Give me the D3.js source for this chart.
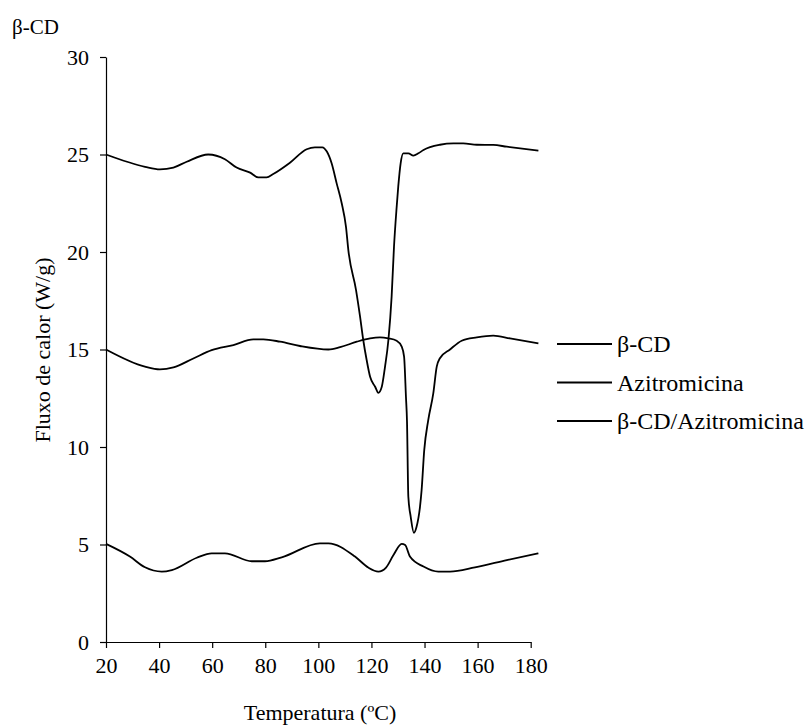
<!DOCTYPE html>
<html>
<head>
<meta charset="utf-8">
<script src="https://cdn.jsdelivr.net/npm/d3@7"></script>
<style>
  body { margin: 0; background: #fff; }
  text { font-family: "Liberation Serif", "Times New Roman", serif; fill: #000; }
</style>
</head>
<body>
<svg></svg>
<script>
// legend names
const seriesNames = ["β-CD", "Azitromicina", "β-CD/Azitromicina"];

// β-CD (upper curve)
const tempA = [20, 34.7, 40.3, 45.4, 50.4, 58.5, 64.8, 69.2, 74.3, 77.4, 80.5, 83.0, 89.3, 95.6, 98.7, 101.5, 103.2, 105.0, 106.9, 108.8, 110.4, 111.3, 114.2, 115.7, 116.9, 118.2, 119.5, 121.4, 122.6, 123.9, 125.1, 126.4, 127.6, 128.5, 129.5, 130.1, 131.0, 132.0, 133.9, 135.8, 137.7, 139.6, 145.8, 150.9, 154.6, 159.7, 165.9, 171.0, 182.9];
const fluxA = [25.0, 24.37, 24.24, 24.33, 24.63, 25.0, 24.76, 24.33, 24.07, 23.83, 23.83, 24.0, 24.58, 25.27, 25.37, 25.37, 25.15, 24.55, 23.52, 22.5, 21.3, 20.1, 18.05, 16.7, 15.5, 14.46, 13.6, 13.09, 12.78, 13.09, 14.1, 15.5, 17.7, 20.27, 22.3, 23.35, 24.55, 25.06, 25.06, 24.94, 25.06, 25.23, 25.5, 25.57, 25.57, 25.5, 25.49, 25.4, 25.2];

// Azitromicina (middle curve)
const tempB = [20, 34.7, 40.3, 45.4, 52.9, 59.8, 68.0, 75.5, 79.3, 85.6, 93.1, 103.8, 108.2, 114.5, 119.5, 123.2, 126.4, 129.5, 131.4, 132.3, 133.0, 133.4, 133.9, 134.8, 136.0, 137.0, 138.3, 138.9, 139.9, 141.4, 143.3, 144.6, 145.8, 149.6, 154.0, 159.7, 165.9, 172.2, 182.9];
const fluxB = [15.0, 14.12, 13.98, 14.08, 14.54, 14.97, 15.23, 15.52, 15.52, 15.4, 15.18, 15.0, 15.12, 15.4, 15.57, 15.62, 15.57, 15.45, 15.15, 14.63, 12.58, 11.3, 7.45, 6.42, 5.6, 5.91, 6.94, 7.79, 9.85, 11.38, 12.75, 14.12, 14.55, 15.0, 15.45, 15.62, 15.71, 15.57, 15.31];

// β-CD/Azitromicina (lower curve)
const tempC = [20, 29.0, 34.7, 41.0, 44.8, 54.2, 59.8, 64.8, 74.9, 79.9, 86.2, 100.6, 103.8, 113.8, 118.8, 122.6, 125.5, 128.3, 131.4, 132.7, 134.5, 139.6, 145.2, 149.6, 159.0, 171.0, 182.9];
const fluxC = [5.03, 4.38, 3.83, 3.61, 3.69, 4.32, 4.55, 4.55, 4.14, 4.14, 4.34, 5.06, 5.06, 4.38, 3.82, 3.61, 3.82, 4.46, 5.03, 4.97, 4.38, 3.87, 3.61, 3.61, 3.83, 4.2, 4.55];

const xTicks = [20, 40, 60, 80, 100, 120, 140, 160, 180];
const yTicks = [0, 5, 10, 15, 20, 25, 30];

const w = 806, h = 726;
const svg = d3.select("svg").attr("width", w).attr("height", h);

const x = d3.scaleLinear().domain([20, 180]).range([106, 530.7]);
const y = d3.scaleLinear().domain([0, 30]).range([642, 57]);

// axes
const xAxis = svg.append("g")
    .attr("transform", `translate(0,${y(0)})`)
    .call(d3.axisBottom(x).tickValues(xTicks).tickSize(6).tickSizeOuter(0).tickPadding(9));
const yAxis = svg.append("g")
    .attr("transform", `translate(${x(20)},0)`)
    .call(d3.axisLeft(y).tickValues(yTicks).tickSize(6).tickSizeOuter(0).tickPadding(11));

[xAxis, yAxis].forEach(g => {
    g.attr("font-family", null);
    g.select(".domain").attr("stroke", "#000").attr("stroke-width", 1.2);
    g.selectAll(".tick line").attr("stroke", "#000").attr("stroke-width", 1.2);
    g.selectAll(".tick text")
        .style("font-family", "Liberation Serif")
        .style("font-size", "22px")
        .attr("fill", "#000");
});

// curves
const line = d3.line()
    .x(d => x(d[0]))
    .y(d => y(d[1]))
    .curve(d3.curveMonotoneX);

const series = [
    d3.zip(tempA, fluxA),
    d3.zip(tempB, fluxB),
    d3.zip(tempC, fluxC)
];

svg.append("g")
    .selectAll("path")
    .data(series)
    .enter()
    .append("path")
    .attr("d", line)
    .attr("fill", "none")
    .attr("stroke", "#000")
    .attr("stroke-width", 1.8)
    .attr("stroke-linejoin", "round");

// legend
const legend = svg.append("g")
    .selectAll("g")
    .data(seriesNames)
    .enter()
    .append("g")
    .attr("transform", (d, i) => `translate(557,${344 + i * 38.5})`);

legend.append("line")
    .attr("x1", 0).attr("x2", 55)
    .attr("stroke", "#000").attr("stroke-width", 1.8);

legend.append("text")
    .attr("x", 60)
    .attr("dy", "0.35em")
    .style("font-size", "24px")
    .text(d => d);

// titles
svg.append("text")
    .attr("x", 12).attr("y", 34)
    .style("font-size", "21px")
    .text("β-CD");

svg.append("text")
    .attr("x", 320).attr("y", 720)
    .attr("text-anchor", "middle")
    .style("font-size", "22px")
    .text("Temperatura (ºC)");

svg.append("text")
    .attr("transform", "translate(50,350) rotate(-90)")
    .attr("text-anchor", "middle")
    .style("font-size", "22px")
    .text("Fluxo de calor (W/g)");
</script>
</body>
</html>
